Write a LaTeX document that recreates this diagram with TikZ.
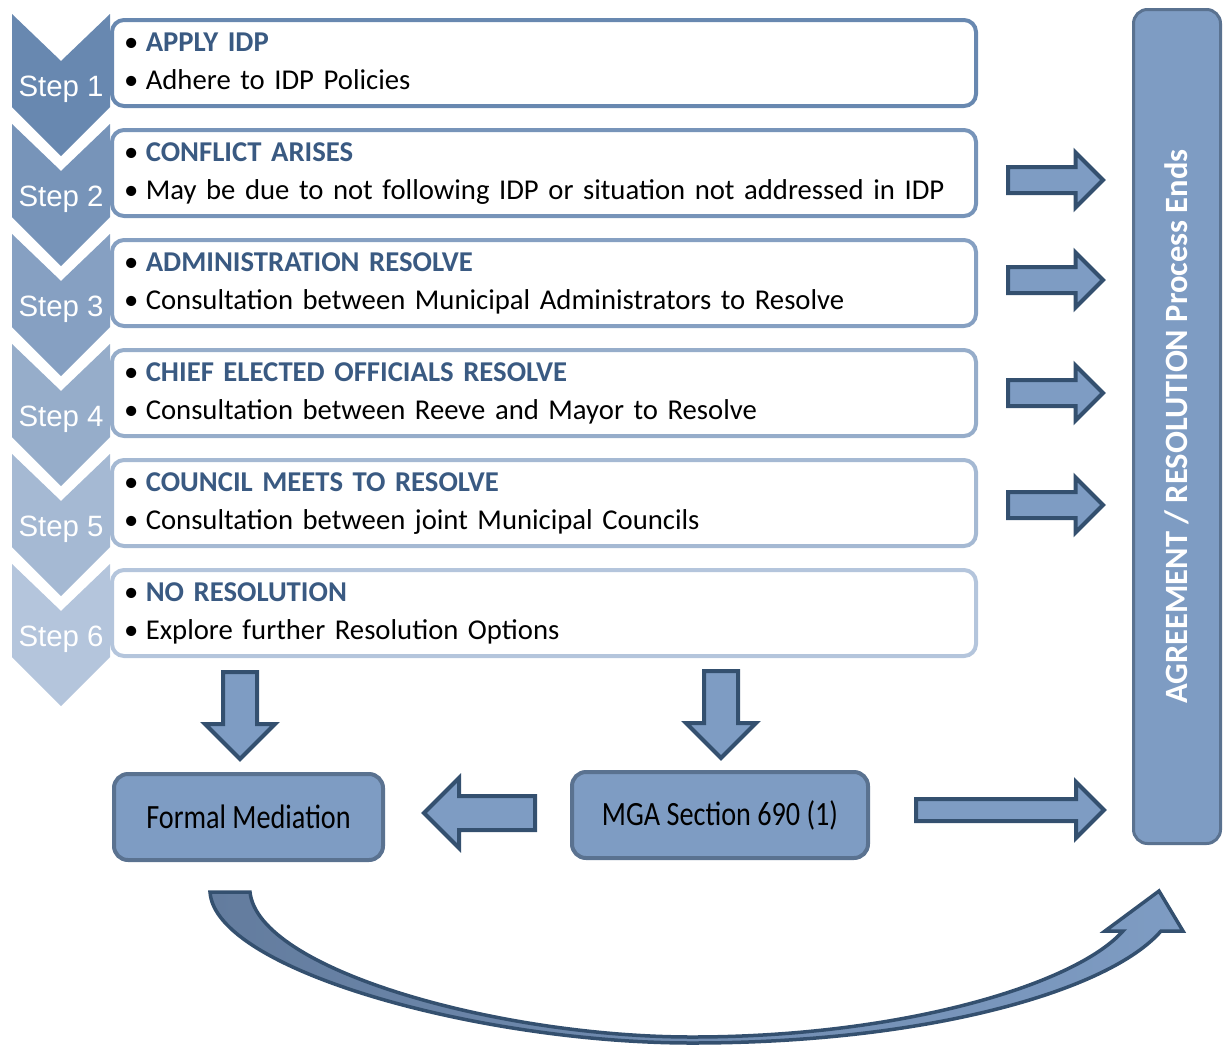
\documentclass[tikz,border=0pt]{standalone}
\usepackage{fontspec}
\setmainfont{Carlito}
\newfontfamily\stepfont{Liberation Sans}
\usetikzlibrary{shapes.arrows}

\definecolor{chevdark}{HTML}{6888B0}
\definecolor{chevlight}{HTML}{B4C5DC}
\definecolor{titleblue}{HTML}{3A5A82}
\definecolor{arrowfill}{HTML}{7E9CC3}
\definecolor{arrowline}{HTML}{34506F}
\definecolor{barline}{HTML}{5A7290}
\definecolor{curvedark}{HTML}{637C9E}

\newcommand\bul{\strut\textbullet\hspace{7.5pt}}

\tikzset{
  stepbox/.style={draw,line width=4pt,rounded corners=12pt,fill=white,text width=840pt,
    inner xsep=12pt,inner ysep=0pt,minimum height=86pt,align=left,font=\fontsize{28.7}{38}\selectfont},
  endbox/.style={draw=barline,fill=arrowfill,line width=4pt,rounded corners=14pt,
    minimum height=86pt,font=\fontsize{34}{40}\selectfont},
  blockarrow/.style={single arrow,draw=arrowline,fill=arrowfill,line width=4pt,
    inner sep=0pt,anchor=tail,single arrow head indent=0pt},
}

\begin{document}
\begin{tikzpicture}[x=1pt,y=-1pt]
  \useasboundingbox (0,0) rectangle (1223,1047);

  % steps: chevron, label and text box
  \foreach \i/\ttl/\txt in {1/APPLY IDP/Adhere to IDP Policies,
      2/CONFLICT ARISES/May be due to not following IDP or situation not addressed in IDP,
      3/ADMINISTRATION RESOLVE/Consultation between Municipal Administrators to Resolve,
      4/CHIEF ELECTED OFFICIALS RESOLVE/Consultation between Reeve and Mayor to Resolve,
      5/COUNCIL MEETS TO RESOLVE/Consultation between joint Municipal Councils,
      6/NO RESOLUTION/Explore further Resolution Options} {
    \pgfmathsetmacro\ytop{14+110*(\i-1)}
    \pgfmathtruncatemacro\pct{100-20*(\i-1)}
    \fill[chevdark!\pct!chevlight] (12,\ytop) -- (61,\ytop+47) -- (110,\ytop) -- (110,\ytop+93)
      -- (61,\ytop+142) -- (12,\ytop+93) -- cycle;
    \node[text=white,font=\stepfont\fontsize{29.4}{30}\selectfont] at (61,\ytop+75) (step\i) {Step \i};
    \node[stepbox,draw=chevdark!\pct!chevlight] at (544,\ytop+49) (box\i)
      {\bul{\bfseries\color{titleblue}\ttl}\\\bul\txt};
  }

  % end of the process
  \node[endbox,rotate=90,line width=3pt,minimum width=834pt,minimum height=87pt,text=white,
    font=\bfseries\fontsize{32.5}{34}\selectfont] at (1177,426.5) (bar)
    {AGREEMENT / RESOLUTION Process Ends};

  \foreach \i/\ya in {2/180,3/280,4/393,5/505}
    \node[blockarrow,inner ysep=11pt,single arrow head extend=14.5pt,minimum height=95pt] at (1006,\ya) (arr\i) {};

  % after step 6
  \node[endbox,minimum width=269pt] at (248.5,817) (fm) {\scalebox{0.83}[1]{Formal Mediation}};
  \node[endbox,minimum width=296pt] at (720,815) (mga) {\scalebox{0.83}[1]{MGA Section 690 (1)}};

  \node[blockarrow,rotate=-90,inner ysep=15pt,single arrow head extend=18pt,minimum height=87pt] at (240,670) (down1) {};
  \node[blockarrow,rotate=-90,inner ysep=15pt,single arrow head extend=18pt,minimum height=87pt] at (721,669) (down2) {};
  \node[blockarrow,rotate=180,inner ysep=15pt,single arrow head extend=18pt,minimum height=111pt] at (537,813) (left) {};
  \node[blockarrow,inner ysep=9pt,single arrow head extend=17pt,minimum height=188pt] at (914,810) (right) {};

  % curved arrow under the boxes
  \draw[draw=arrowline,line width=3.5pt,left color=curvedark,right color=arrowfill]
    (210,892) -- (250,892) .. controls (258,970) and (500,1037) .. (692,1037)
    .. controls (900,1037) and (1075,985) .. (1123,931) -- (1105,931) -- (1159,891)
    -- (1183,931) -- (1161,931) .. controls (1110,990) and (930,1043) .. (692,1043)
    .. controls (480,1043) and (215,970) .. (210,892) -- cycle;
\end{tikzpicture}
\end{document}
